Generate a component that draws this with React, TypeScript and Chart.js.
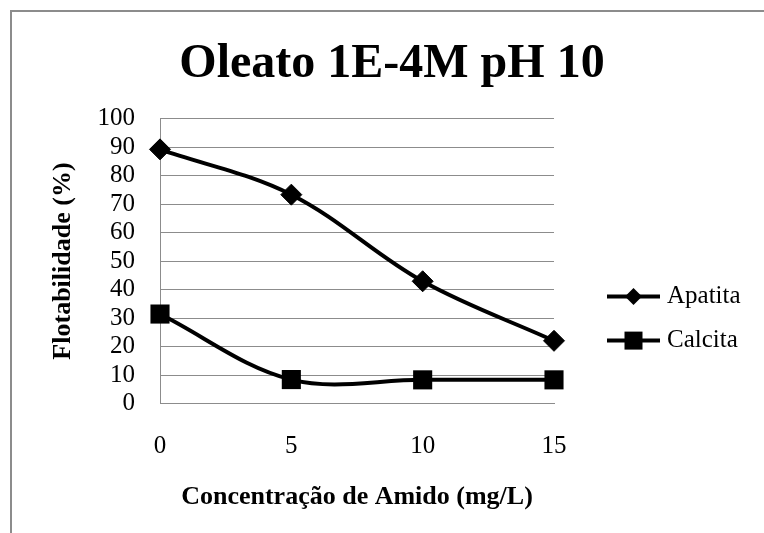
import React, { useEffect, useRef } from 'react';
import { Chart, registerables } from 'chart.js';

Chart.register(...registerables);

const titleText = 'Oleato 1E-4M pH 10';
const xAxisTitle = 'Concentração de Amido (mg/L)';
const yAxisTitle = 'Flotabilidade (%)';
const concentrations = [0, 5, 10, 15];
const apatita = [89.2, 73.3, 42.9, 22.0];
const calcita = [31.4, 8.4, 8.3, 8.3];
const xTicks = [0, 5, 10, 15];
const yTicks = [0, 10, 20, 30, 40, 50, 60, 70, 80, 90, 100];
const seriesNames = ['Apatita', 'Calcita'];

const SERIF = '"Liberation Serif", "Times New Roman", serif';
const GRID = '#8c8c8c';

const lineLegend = {
  id: 'lineLegend',
  afterDraw(chart: any) {
    const { ctx, chartArea } = chart;
    chart.data.datasets.forEach((ds: any, i: number) => {
      const y = chartArea.top + 178 + i * 44;
      const x0 = chartArea.right + 53;
      const x1 = x0 + 53;
      const cx = (x0 + x1) / 2;
      ctx.save();
      ctx.strokeStyle = ds.borderColor;
      ctx.lineWidth = 4;
      ctx.beginPath();
      ctx.moveTo(x0, y);
      ctx.lineTo(x1, y);
      ctx.stroke();
      ctx.fillStyle = ds.pointBackgroundColor;
      ctx.beginPath();
      if (ds.pointStyle === 'rectRot') {
        const r = 8.5;
        ctx.moveTo(cx - r, y);
        ctx.lineTo(cx, y - r);
        ctx.lineTo(cx + r, y);
        ctx.lineTo(cx, y + r);
        ctx.closePath();
      } else {
        const s = 9;
        ctx.rect(cx - s, y - s, 2 * s, 2 * s);
      }
      ctx.fill();
      ctx.font = `25px ${SERIF}`;
      ctx.textBaseline = 'middle';
      ctx.textAlign = 'left';
      ctx.fillStyle = '#000';
      ctx.fillText(ds.label, x1 + 7, y);
      ctx.restore();
    });
  },
};

export default function App() {
  const ref = useRef<HTMLCanvasElement | null>(null);

  useEffect(() => {
    if (!ref.current) return;
    const chart = new Chart(ref.current, {
      type: 'line',
      data: {
        datasets: [
          {
            label: seriesNames[0],
            data: concentrations.map((x, i) => ({ x, y: apatita[i] })),
            borderColor: '#000',
            backgroundColor: '#000',
            pointBackgroundColor: '#000',
            pointBorderColor: '#000',
            borderWidth: 4,
            pointStyle: 'rectRot',
            pointRadius: 10.5,
            pointBorderWidth: 1,
            tension: 0.35,
            clip: false,
          },
          {
            label: seriesNames[1],
            data: concentrations.map((x, i) => ({ x, y: calcita[i] })),
            borderColor: '#000',
            backgroundColor: '#000',
            pointBackgroundColor: '#000',
            pointBorderColor: '#000',
            borderWidth: 4,
            pointStyle: 'rect',
            pointRadius: 13.5,
            pointBorderWidth: 0,
            tension: 0.35,
            clip: false,
          },
        ],
      } as any,
      options: {
        animation: false,
        responsive: true,
        maintainAspectRatio: false,
        layout: { padding: { left: 18, right: 10, top: 0, bottom: 10 } },
        plugins: {
          legend: { display: false },
          tooltip: { enabled: false },
          title: {
            display: true,
            text: titleText,
            color: '#000',
            font: { family: SERIF, size: 48, weight: 'bold' },
            padding: { top: 24, bottom: 25 },
          },
        },
        scales: {
          x: {
            type: 'linear',
            min: 0,
            max: 15,
            afterBuildTicks: (scale: any) => {
              scale.ticks = xTicks.map((v) => ({ value: v }));
            },
            afterFit: (scale: any) => {
              scale.height = 119.5;
            },
            grid: { display: false, drawTicks: false },
            border: { display: true, color: GRID, width: 1 },
            ticks: {
              color: '#000',
              padding: 28,
              autoSkip: false,
              font: { family: SERIF, size: 25 },
              maxRotation: 0,
            },
            title: {
              display: true,
              text: xAxisTitle,
              color: '#000',
              font: { family: SERIF, size: 26, weight: 'bold' },
              padding: { top: 0, bottom: 10 },
            },
          },
          y: {
            min: 0,
            max: 100,
            afterBuildTicks: (scale: any) => {
              scale.ticks = yTicks.map((v) => ({ value: v }));
            },
            afterFit: (scale: any) => {
              scale.width = 130;
            },
            grid: { color: GRID, lineWidth: 1, drawTicks: false },
            border: { display: true, color: GRID, width: 1 },
            ticks: {
              color: '#000',
              padding: 25,
              autoSkip: false,
              font: { family: SERIF, size: 25 },
            },
            title: {
              display: true,
              text: yAxisTitle,
              color: '#000',
              font: { family: SERIF, size: 26, weight: 'bold' },
              padding: { top: 18, bottom: 0 },
            },
          },
          legendSpace: {
            type: 'linear',
            position: 'right',
            display: true,
            afterFit: (scale: any) => {
              scale.width = 200;
            },
            grid: { display: false, drawTicks: false },
            border: { display: false },
            ticks: { display: false },
          },
        },
      } as any,
      plugins: [lineLegend],
    });
    return () => chart.destroy();
  }, []);

  return (
    <div
      style={{
        position: 'absolute',
        left: 10,
        top: 10,
        width: 754,
        height: 523,
        boxSizing: 'border-box',
        borderTop: `2px solid ${GRID}`,
        borderLeft: `2px solid ${GRID}`,
        background: '#fff',
      }}
    >
      <div style={{ position: 'relative', width: 752, height: 521 }}>
        <canvas ref={ref} />
      </div>
    </div>
  );
}
